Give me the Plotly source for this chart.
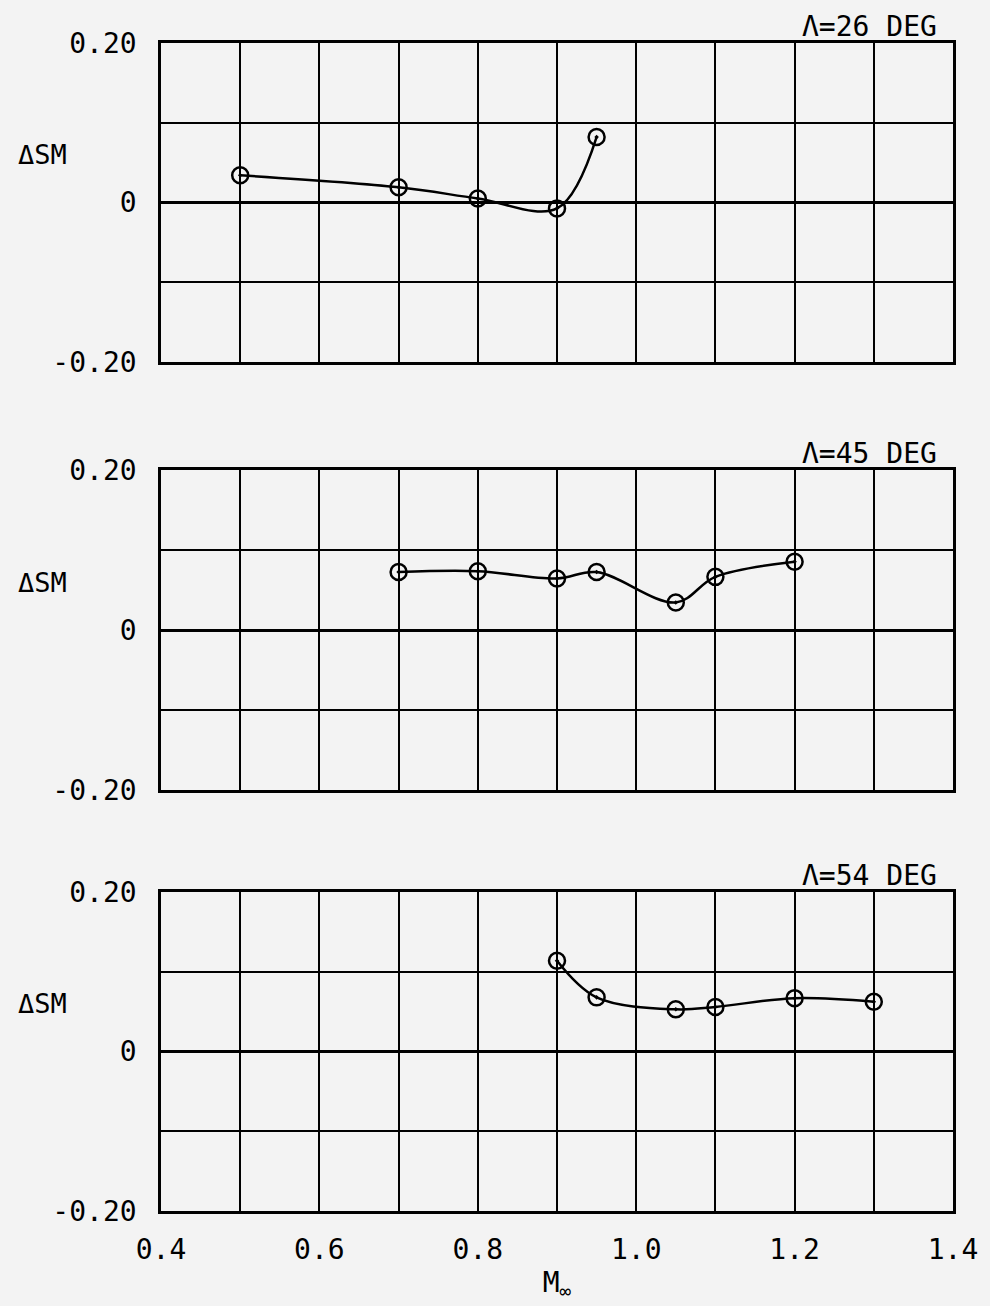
import plotly.graph_objects as go

# Sweep 26 deg
mach_26 = [0.5, 0.7, 0.8, 0.9, 0.95]
dsm_26 = [0.034, 0.019, 0.005, -0.0075, 0.082]
# Sweep 45 deg
mach_45 = [0.7, 0.8, 0.9, 0.95, 1.05, 1.1, 1.2]
dsm_45 = [0.073, 0.074, 0.065, 0.073, 0.035, 0.067, 0.086]
# Sweep 54 deg
mach_54 = [0.9, 0.95, 1.05, 1.1, 1.2, 1.3]
dsm_54 = [0.114, 0.068, 0.053, 0.056, 0.067, 0.0625]

titles = ["Λ=26 DEG", "Λ=45 DEG", "Λ=54 DEG"]
x_ticks = [0.4, 0.5, 0.6, 0.7, 0.8, 0.9, 1.0, 1.1, 1.2, 1.3, 1.4]
x_text = ["0.4", "", "0.6", "", "0.8", "", "1.0", "", "1.2", "", "1.4"]
y_ticks = [-0.2, -0.1, 0, 0.1, 0.2]
y_text = ["-0.20", "", "0", "", "0.20"]

FONT = "DejaVu Sans Mono"
BG = "#f3f3f3"

fig = go.Figure()
series = [(mach_26, dsm_26), (mach_45, dsm_45), (mach_54, dsm_54)]
axes = [("x", "y"), ("x2", "y2"), ("x3", "y3")]
for (xs, ys), (xa, ya) in zip(series, axes):
    fig.add_trace(go.Scatter(
        x=xs, y=ys, xaxis=xa, yaxis=ya, mode="lines+markers",
        line=dict(color="black", width=2.5, shape="spline", smoothing=1.0),
        marker=dict(symbol="circle-open-dot", size=16, color="black",
                    line=dict(color="black", width=2.5)),
        showlegend=False, cliponaxis=False))

domains = [[0.7270, 1.0], [0.3601, 0.6340], [0.0, 0.2730]]

common_x = dict(range=[0.4, 1.4], tickvals=x_ticks, ticktext=x_text,
                showgrid=True, gridcolor="black", gridwidth=2,
                zeroline=False, showline=True, mirror=True,
                linecolor="black", linewidth=2.5, ticks="",
                tickfont=dict(family=FONT, size=28, color="black"))
common_y = dict(range=[-0.2, 0.2], tickvals=y_ticks, ticktext=y_text,
                showgrid=True, gridcolor="black", gridwidth=2,
                zeroline=True, zerolinecolor="black", zerolinewidth=2.5,
                showline=True, mirror=True, linecolor="black", linewidth=2.5,
                ticks="", ticklabelstandoff=16,
                tickfont=dict(family=FONT, size=28, color="black"))

layout = dict(
    width=990, height=1306,
    margin=dict(l=161, r=28, t=43, b=91),
    paper_bgcolor=BG, plot_bgcolor=BG,
    font=dict(family=FONT, color="black"),
)
for i in range(3):
    sx = "" if i == 0 else str(i + 1)
    xa = dict(common_x, anchor="y" + sx, showticklabels=(i == 2))
    if i != 0:
        xa["matches"] = "x"
    if i == 2:
        xa["ticklabelstandoff"] = 12
        xa["title"] = dict(text="M<sub>∞</sub>", font=dict(family=FONT, size=28),
                           standoff=8)
    ya = dict(common_y, domain=domains[i], anchor="x" + sx)
    layout["xaxis" + sx] = xa
    layout["yaxis" + sx] = ya

fig.update_layout(**layout)

annotations = []
for i in range(3):
    sx = "" if i == 0 else str(i + 1)
    annotations.append(dict(
        text=titles[i], xref="paper", yref="paper", x=1.0, y=domains[i][1],
        xanchor="right", yanchor="bottom", xshift=-14, yshift=-2, showarrow=False,
        font=dict(family=FONT, size=28, color="black")))
    annotations.append(dict(
        text="ΔSM", xref="paper", yref="y" + sx, x=0.0, y=0.06,
        xanchor="right", yanchor="middle", xshift=-92, showarrow=False,
        font=dict(family=FONT, size=27, color="black")))
fig.update_layout(annotations=annotations)

fig.write_html("out.html", config={"displayModeBar": False},
               post_script="document.body.style.margin='0';document.body.style.background='#f3f3f3';")
